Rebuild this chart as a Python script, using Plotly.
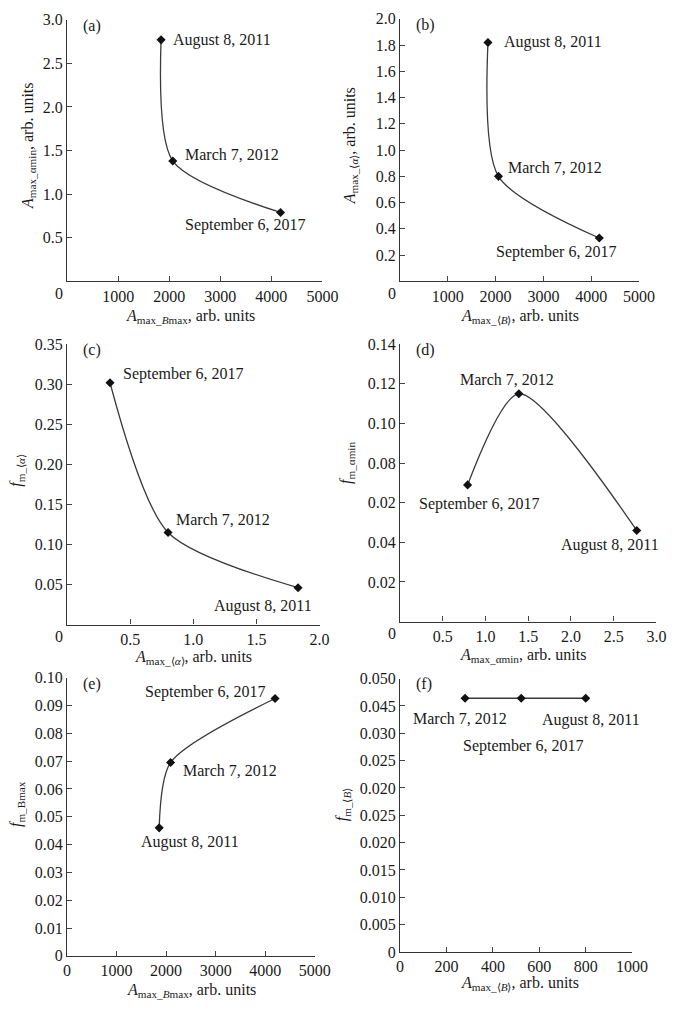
import plotly.graph_objects as go

W, H = 685, 1016
FONT = "Liberation Serif"

dates = ["August 8, 2011", "March 7, 2012", "September 6, 2017"]

# values, in the order of `dates`
a_x = [1840, 2070, 4180]
a_y = [2.77, 1.38, 0.79]
b_x = [1840, 2060, 4170]
b_y = [1.82, 0.80, 0.33]
c_x = [1.83, 0.80, 0.34]
c_y = [0.046, 0.115, 0.302]
d_x = [2.77, 1.39, 0.79]
d_y = [0.046, 0.115, 0.069]
e_x = [1860, 2090, 4200]
e_y = [0.046, 0.0695, 0.0925]
f_x = [800, 280, 522]
f_y = [0.0464, 0.0464, 0.0464]

# tick labels (as printed)
a_yticks = [0.5, 1.0, 1.5, 2.0, 2.5, 3.0]
a_ytext = ["0.5", "1.0", "1.5", "2.0", "2.5", "3.0"]
b_yticks = [0.2, 0.4, 0.6, 0.8, 1.0, 1.2, 1.4, 1.6, 1.8, 2.0]
b_ytext = ["0.2", "0.4", "0.6", "0.8", "1.0", "1.2", "1.4", "1.6", "1.8", "2.0"]
ab_xticks = [1000, 2000, 3000, 4000, 5000]
ab_xtext = ["1000", "2000", "3000", "4000", "5000"]
c_yticks = [0.05, 0.10, 0.15, 0.20, 0.25, 0.30, 0.35]
c_ytext = ["0.05", "0.10", "0.15", "0.20", "0.25", "0.30", "0.35"]
c_xticks = [0.5, 1.0, 1.5, 2.0]
c_xtext = ["0.5", "1.0", "1.5", "2.0"]
d_yticks = [0.02, 0.04, 0.06, 0.08, 0.10, 0.12, 0.14]
d_ytext = ["0.02", "0.04", "0.02", "0.08", "0.10", "0.12", "0.14"]
d_xticks = [0.5, 1.0, 1.5, 2.0, 2.5, 3.0]
d_xtext = ["0.5", "1.0", "1.5", "2.0", "2.5", "3.0"]
e_yticks = [0, 0.01, 0.02, 0.03, 0.04, 0.05, 0.06, 0.07, 0.08, 0.09, 0.10]
e_ytext = ["0", "0.01", "0.02", "0.03", "0.04", "0.05", "0.06", "0.07", "0.08", "0.09", "0.10"]
e_xticks = [0, 1000, 2000, 3000, 4000, 5000]
e_xtext = ["0", "1000", "2000", "3000", "4000", "5000"]
f_yticks = [0, 0.005, 0.010, 0.015, 0.020, 0.025, 0.030, 0.035, 0.040, 0.045, 0.050]
f_ytext = ["0", "0.005", "0.010", "0.015", "0.020", "0.025", "0.020", "0.025", "0.030", "0.045", "0.050"]
f_xticks = [0, 200, 400, 600, 800, 1000]
f_xtext = ["0", "200", "400", "600", "800", "1000"]

# panel geometry in pixels: (left, right, top, bottom)
boxes = {
    "a": (65, 328, 12, 278),
    "b": (408, 654, 11, 278),
    "c": (65, 325, 342, 627),
    "d": (408, 672, 342, 624),
    "e": (65, 320, 681, 964),
    "f": (408, 647, 682, 960),
}

LA, RA = "\u27e8", "\u27e9"

panels = [
    ("a", a_x, a_y, [0, 5000], [0, 3.0], ab_xticks, ab_xtext, a_yticks, a_ytext, False, True,
     "<i>A</i><sub>max_<i>B</i>max</sub>, arb. units", "<i>A</i><sub>max_αmin</sub>, arb. units",
     [(10, 0), (10, 7), (-98, -13)], (192, 314), (25, 140)),
    ("b", b_x, b_y, [0, 5000], [0, 2.0], ab_xticks, ab_xtext, b_yticks, b_ytext, False, True,
     f"<i>A</i><sub>max_{LA}<i>B</i>{RA}</sub>, arb. units", f"<i>A</i><sub>max_{LA}<i>α</i>{RA}</sub>, arb. units",
     [(14, 0), (8, 9), (-105, -14)], (532, 314), (357, 140)),
    ("c", c_x, c_y, [0, 2.0], [0, 0.35], c_xticks, c_xtext, c_yticks, c_ytext, False, True,
     f"<i>A</i><sub>max_{LA}<i>α</i>{RA}</sub>, arb. units", f"<i>f</i><sub>m_{LA}<i>α</i>{RA}</sub>",
     [(-86, -18), (6, 13), (11, 9)], (195, 661), (13, 470)),
    ("d", d_x, d_y, [0, 3.0], [0, 0.14], d_xticks, d_xtext, d_yticks, d_ytext, False, True,
     "<i>A</i><sub>max_αmin</sub>, arb. units", "<i>f</i><sub>m_αmin</sub>",
     [(-78, -15), (-61, 14), (-51, -19)], (535, 659), (353, 463)),
    ("e", e_x, e_y, [0, 5000], [0, 0.10], e_xticks, e_xtext, e_yticks, e_ytext, False, False,
     "<i>A</i><sub>max_<i>B</i>max</sub>, arb. units", "<i>f</i><sub>m_Bmax</sub>",
     [(-20, -14), (10, -8), (-132, 6)], (193, 999), (13, 810)),
    ("f", f_x, f_y, [0, 1000], [0, 0.050], f_xticks, f_xtext, f_yticks, f_ytext, True, False,
     f"<i>A</i><sub>max_{LA}<i>B</i>{RA}</sub>, arb. units", f"<i>f</i><sub>m_{LA}<i>B</i>{RA}</sub>",
     [(-46, -22), (-54, -20), (-60, -48)], (532, 992), (349, 810)),
]

fig = go.Figure()
annotations = []
layout = {}
TXT = "#1a1a1a"

for i, (key, xs, ys, xr, yr, xt, xtt, yt, ytt, sort_line, origin0, xtitle, ytitle, offs, xtpos, ytpos) in enumerate(panels):
    n = "" if i == 0 else str(i + 1)
    l, r, t, b = boxes[key]
    common = dict(
        tickmode="array", ticks="inside", ticklen=5, tickcolor="#444",
        showline=True, linecolor="#333", linewidth=1.2, showgrid=False, zeroline=False,
        tickfont=dict(family=FONT, size=16, color=TXT), fixedrange=True,
    )
    layout["xaxis" + n] = dict(domain=[l / W, r / W], range=xr, anchor="y" + n,
                               tickvals=xt, ticktext=xtt, **common)
    layout["yaxis" + n] = dict(domain=[1 - b / H, 1 - t / H], range=yr, anchor="x" + n,
                               tickvals=yt, ticktext=ytt, **common)
    if sort_line:
        order = sorted(range(len(xs)), key=lambda k: xs[k])
        lx = [xs[k] for k in order]
        ly = [ys[k] for k in order]
        shape = "linear"
    else:
        lx, ly = xs, ys
        shape = "spline"
    fig.add_trace(go.Scatter(
        x=lx, y=ly, mode="lines", line=dict(color="#3a3a3a", width=1.3, shape=shape, smoothing=0.75),
        xaxis="x" + n, yaxis="y" + n, showlegend=False, hoverinfo="skip",
    ))
    fig.add_trace(go.Scatter(
        x=xs, y=ys, mode="markers", marker=dict(symbol="diamond", size=7, color="#111"),
        xaxis="x" + n, yaxis="y" + n, showlegend=False, text=dates,
    ))
    for k, d in enumerate(dates):
        annotations.append(dict(
            text=d, x=xs[k], y=ys[k], xref="x" + n, yref="y" + n, xanchor="left", yanchor="middle",
            xshift=offs[k][0], yshift=offs[k][1], showarrow=False,
            font=dict(family=FONT, size=16, color=TXT),
        ))
    annotations.append(dict(
        text="(" + key + ")", x=(l + 14) / W, y=1 - (t + 6) / H, xref="paper", yref="paper",
        xanchor="left", yanchor="middle", showarrow=False,
        font=dict(family=FONT, size=16, color=TXT),
    ))
    if origin0:
        annotations.append(dict(
            text="0", x=(l - 8) / W, y=1 - (b + 12) / H, xref="paper", yref="paper",
            xanchor="center", yanchor="middle", showarrow=False,
            font=dict(family=FONT, size=16, color=TXT),
        ))
    annotations.append(dict(
        text=xtitle, x=xtpos[0] / W, y=1 - xtpos[1] / H, xref="paper", yref="paper",
        xanchor="center", yanchor="middle", showarrow=False,
        font=dict(family=FONT, size=16, color=TXT),
    ))
    annotations.append(dict(
        text=ytitle, x=ytpos[0] / W, y=1 - ytpos[1] / H, xref="paper", yref="paper",
        xanchor="center", yanchor="middle", textangle=-90, showarrow=False,
        font=dict(family=FONT, size=16, color=TXT),
    ))

fig.update_layout(
    width=W, height=H, margin=dict(l=0, r=0, t=0, b=0),
    paper_bgcolor="white", plot_bgcolor="white",
    font=dict(family=FONT, size=16, color=TXT),
    annotations=annotations, **layout,
)
fig.write_html(
    "out.html",
    config={"displayModeBar": False},
    post_script="document.body.style.margin='0px';document.body.style.overflow='hidden';",
)
